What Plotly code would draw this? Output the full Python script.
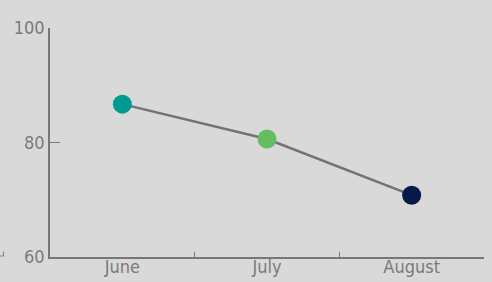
import plotly.graph_objects as go

months = ["June", "July", "August"]
values = [86.7, 80.6, 70.8]
marker_colors = ["#009a90", "#64bd60", "#061a4a"]
y_ticks = [60, 80, 100]

fig = go.Figure()
fig.add_trace(go.Scatter(
    x=months, y=values, mode="lines+markers",
    line=dict(color="#737373", width=2.5),
    marker=dict(size=19, color=marker_colors, line=dict(width=0)),
    showlegend=False, hoverinfo="skip",
))

font_family = "DejaVu Sans Condensed"
fig.update_layout(
    width=492, height=282,
    margin=dict(l=50, r=8, t=28, b=25),
    paper_bgcolor="#d9d9d9", plot_bgcolor="#d9d9d9",
    font=dict(family=font_family, size=18, color="#7b7b7b"),
    xaxis=dict(
        type="category", range=[-0.5, 2.5], tickson="boundaries",
        ticks="inside", ticklen=5, tickwidth=1.2, tickcolor="#777",
        showline=True, linecolor="#777", linewidth=1.5,
        showgrid=False, zeroline=False, automargin=False,
        ticklabelstandoff=-7,
    ),
    yaxis=dict(
        range=[60, 100], tickvals=y_ticks,
        ticks="inside", ticklen=10, tickwidth=1.2, tickcolor="#777",
        showline=True, linecolor="#777", linewidth=1.5,
        showgrid=False, zeroline=False, automargin=False,
    ),
    shapes=[dict(
        type="path", xref="paper", yref="paper",
        path="M -0.1152,0.0044 L -0.1071,0.0044 L -0.1071,0.0240",
        line=dict(color="#888", width=1.2),
    )],
)

fig.write_html(
    "out.html",
    config={"displayModeBar": False},
    post_script="document.body.style.margin='0';document.body.style.overflow='hidden';",
)
